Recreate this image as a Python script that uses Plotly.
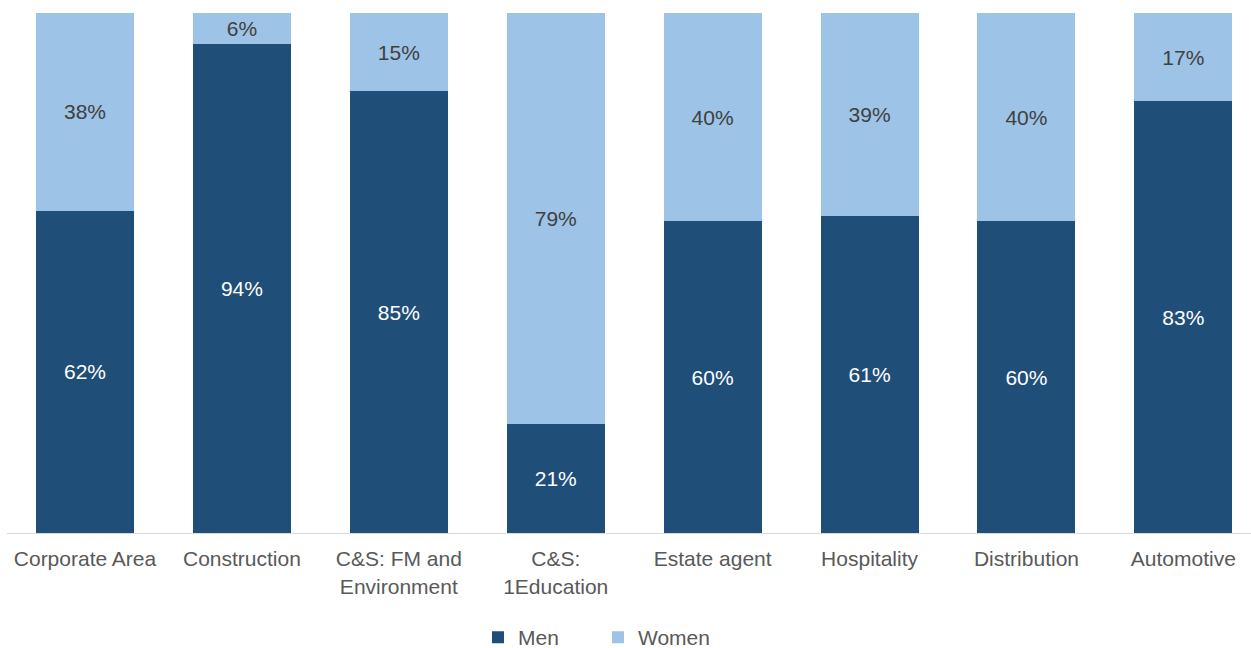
import plotly.graph_objects as go

categories = ["Corporate Area", "Construction", "C&S: FM and<br>Environment", "C&S:<br>1Education",
              "Estate agent", "Hospitality", "Distribution", "Automotive"]
men = [62, 94, 85, 21, 60, 61, 60, 83]
women = [38, 6, 15, 79, 40, 39, 40, 17]

FONT = "Liberation Sans, Arial, sans-serif"
FS = 21

fig = go.Figure()
fig.add_trace(go.Bar(
    x=categories, y=men, name="Men", marker=dict(color="#1F4E79", line=dict(width=0)),
    width=0.625, texttemplate="%{y}%", textposition="inside", insidetextanchor="middle",
    textangle=0, constraintext="none",
    textfont=dict(color="#FFFFFF", size=FS, family=FONT),
))
fig.add_trace(go.Bar(
    x=categories, y=women, name="Women", marker=dict(color="#9DC3E6", line=dict(width=0)),
    width=0.625, texttemplate="%{y}%", textposition="inside", insidetextanchor="middle",
    textangle=0, constraintext="none",
    textfont=dict(color="#404040", size=FS, family=FONT),
))

fig.update_layout(
    width=1251, height=648,
    barmode="stack",
    plot_bgcolor="white", paper_bgcolor="white",
    margin=dict(l=7, r=0, t=13, b=115),
    font=dict(family=FONT, size=FS, color="#595959"),
    showlegend=True,
    legend=dict(orientation="h", xref="container", x=478 / 1251, xanchor="left",
                yref="container", y=0.016, yanchor="middle",
                font=dict(size=FS, color="#595959"),
                traceorder="normal", itemwidth=30, entrywidth=75, entrywidthmode="pixels"),
    xaxis=dict(range=[-0.497, 7.431], showline=True, linecolor="#D9D9D9", linewidth=1,
               showgrid=False, ticks="", tickfont=dict(size=FS, color="#595959"),
               ticklabelstandoff=7, fixedrange=True),
    yaxis=dict(range=[0, 100], showgrid=False, showticklabels=False, zeroline=False,
               showline=False, fixedrange=True),
    bargap=0.375,
)

fig.write_html("out.html")
